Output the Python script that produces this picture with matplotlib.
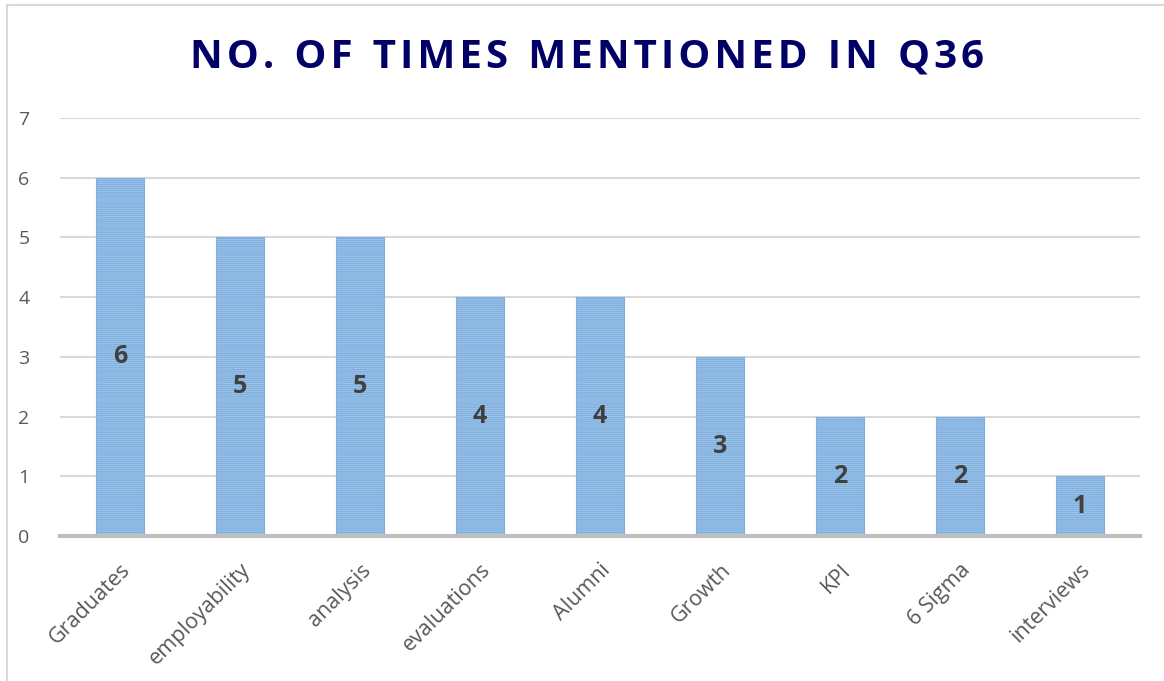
import matplotlib.pyplot as plt
from matplotlib.patches import Rectangle

# Data
categories = ['Graduates', 'employability', 'analysis', 'evaluations', 'Alumni',
              'Growth', 'KPI', '6 Sigma', 'interviews']
counts = [6, 5, 5, 4, 4, 3, 2, 2, 1]
y_ticks = [0, 1, 2, 3, 4, 5, 6, 7]

plt.rcParams['hatch.color'] = '#5B9BD5'
plt.rcParams['hatch.linewidth'] = 0.9

fig = plt.figure(figsize=(11.64, 6.81), dpi=100)
ax = fig.add_axes([60 / 1164, 145 / 681, 1080 / 1164, 418 / 681])

# light chart frame (only top and left edges visible in the crop)
fig.patches.append(Rectangle((7 / 1164, -0.1), 1.2, (676 / 681) + 0.1,
                             transform=fig.transFigure, fill=False,
                             edgecolor='#D9D9D9', linewidth=1.5))

x = range(len(categories))
bars = ax.bar(x, counts, width=0.4, color='#A2C6EA', edgecolor='#7FB0E0',
              linewidth=0.8, hatch='--------', zorder=3)

for i, v in enumerate(counts):
    ax.text(i, v / 2, str(v), ha='center', va='center', fontsize=18,
            fontweight='bold', color='#404040', family='Open Sans', zorder=4)

ax.set_xlim(-0.5, len(categories) - 0.5)
ax.set_ylim(0, 7)
ax.set_yticks(y_ticks)
ax.set_yticklabels([str(t) for t in y_ticks], fontsize=14, color='#595959',
                   family='Open Sans')
ax.set_xticks(list(x))
ax.set_xticklabels(categories, rotation=45, ha='right', rotation_mode='anchor',
                   fontsize=15.5, color='#595959', family='Open Sans')
ax.tick_params(axis='both', length=0)
ax.tick_params(axis='y', pad=22)
ax.tick_params(axis='x', pad=17)

ax.grid(axis='y', color='#D9D9D9', linewidth=1.5, zorder=0)
for s in ['top', 'right', 'left']:
    ax.spines[s].set_visible(False)
ax.spines['bottom'].set_color('#BFBFBF')
ax.spines['bottom'].set_linewidth(3)
ax.spines['bottom'].set_zorder(5)

title = 'N O .   O F   T I M E S   M E N T I O N E D   I N   Q 3 6'
title = title.replace('   ', '\u2002').replace(' ', '\u200a')
fig.text(0.504, 1 - 57 / 681, title,
         ha='center', va='center', fontsize=29, fontweight='bold',
         color='#000066', family='Open Sans')

fig.savefig('out.png', dpi=100)
